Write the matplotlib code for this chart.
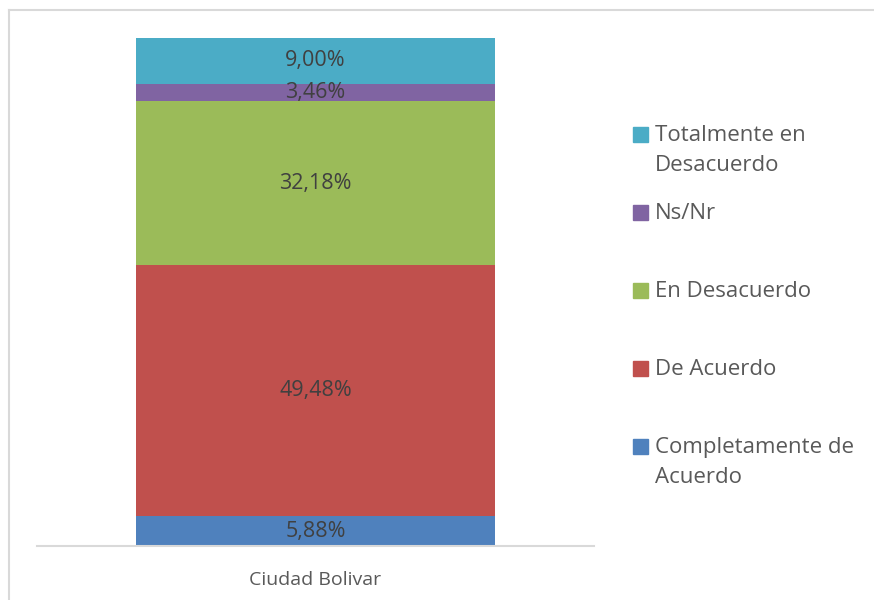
"""stacked bar: Ciudad Bolivar
"""

import matplotlib
matplotlib.use('Agg')
from matplotlib import pyplot
from matplotlib.lines import Line2D
from matplotlib.patches import Rectangle

category = 'Ciudad Bolivar'
labels = ['Completamente de\nAcuerdo', 'De Acuerdo', 'En Desacuerdo',
          'Ns/Nr', 'Totalmente en\nDesacuerdo']
values = [5.88, 49.48, 32.18, 3.46, 9.00]
colors = ['#4F81BD', '#C0504D', '#9BBB59', '#8064A2', '#4BACC6']

W, H = 874, 600
pyplot.rcParams['font.family'] = ['Open Sans', 'DejaVu Sans']

fig = pyplot.figure(figsize=(W / 100, H / 100), dpi=100)
ax = fig.add_axes([37 / W, 1 - 546 / H, (594 - 37) / W, (546 - 38) / H])

bottom = 0
for label, value, color in zip(labels, values, colors):
    bars = ax.bar([category], [value], bottom=bottom, width=0.644,
                  color=color, label=label)
    ax.bar_label(bars, labels=[f'{value:.2f}%'.replace('.', ',')],
                 label_type='center', fontsize=15.5, color='#404040')
    bottom += value

ax.set_xlim(-0.5, 0.5)
ax.set_ylim(0, 100)
ax.set_yticks([])
for side in ('left', 'right', 'top'):
    ax.spines[side].set_visible(False)
ax.spines['bottom'].set_color('#D9D9D9')
ax.spines['bottom'].set_linewidth(1.5)
ax.tick_params(axis='x', length=0, pad=18, labelsize=14, labelcolor='#595959')

# leyenda a mano, en orden inverso como en Excel
step = 78
for i, (label, color) in enumerate(zip(labels[::-1], colors[::-1])):
    y = 135 + i * step
    fig.patches.append(Rectangle((633 / W, 1 - (y + 7) / H), 15 / W, 15 / H,
                                 transform=fig.transFigure, color=color))
    fig.text(655 / W, 1 - (y - 10) / H, label, fontsize=16, color='#595959',
             va='top', ha='left', linespacing=1.55)

# marco del grafico
fig.add_artist(Line2D([9 / W, 9 / W], [0, 1 - 10 / H], color='#D9D9D9', lw=1.5))
fig.add_artist(Line2D([9 / W, 1], [1 - 10 / H, 1 - 10 / H], color='#D9D9D9', lw=1.5))

fig.savefig('out.png', dpi=100)
